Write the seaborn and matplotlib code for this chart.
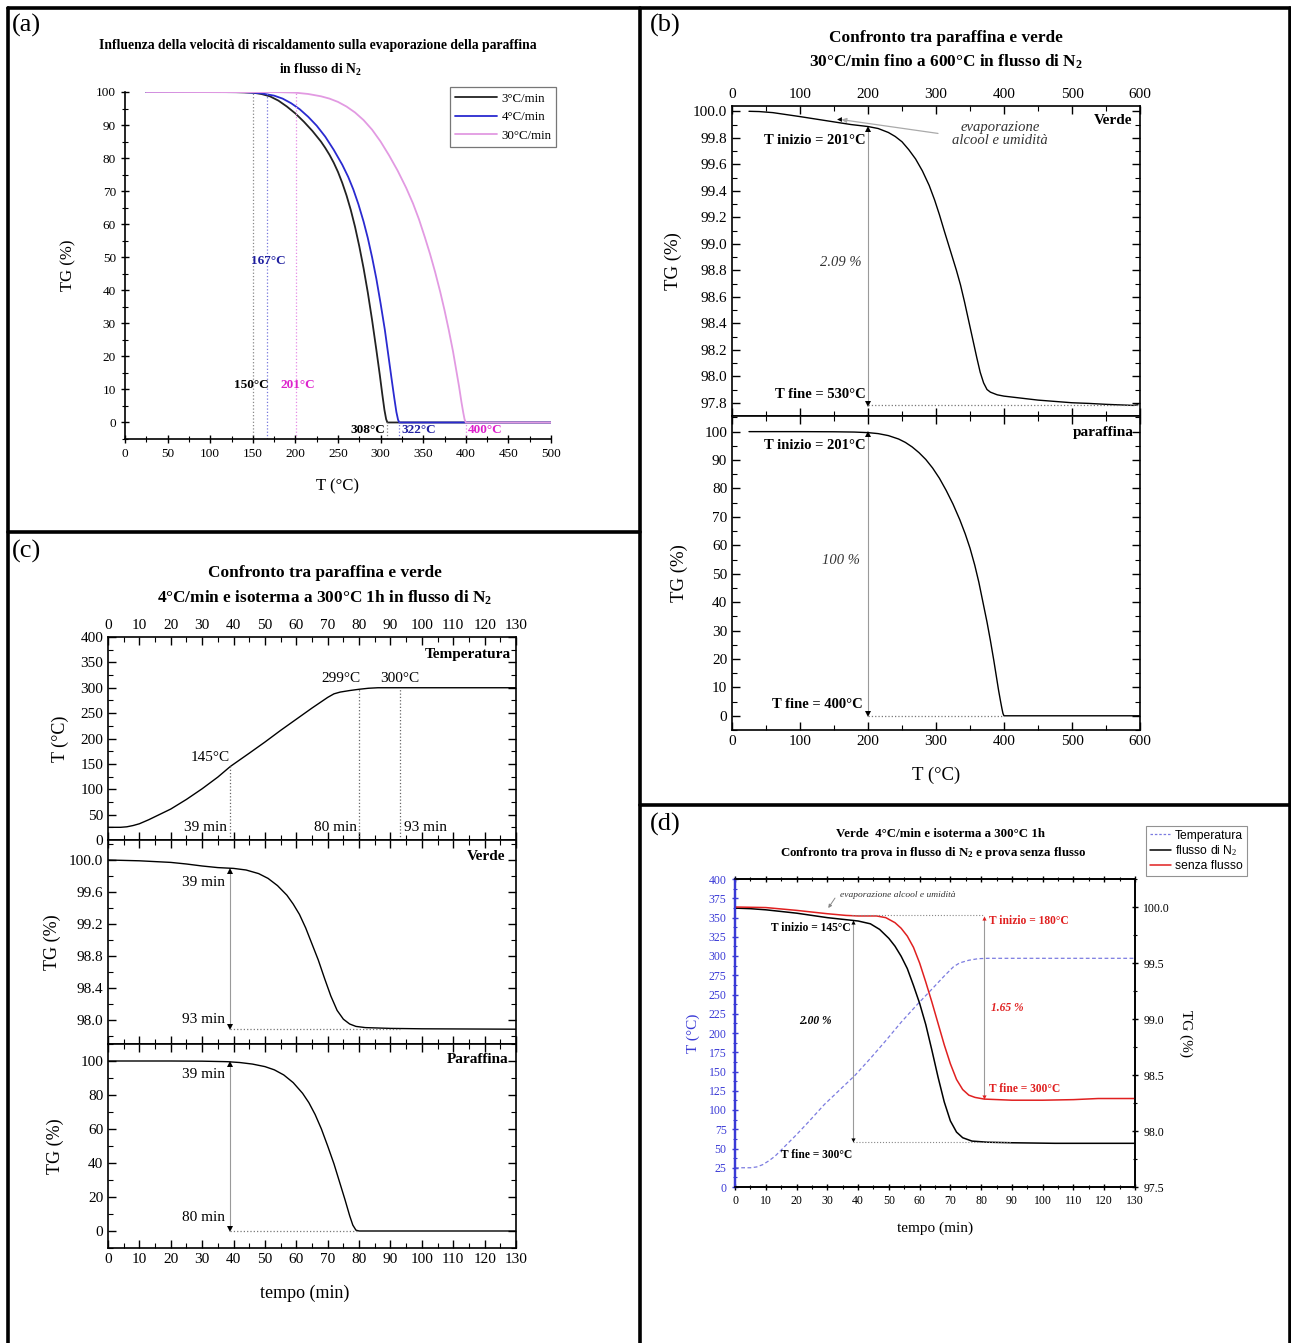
import numpy as np
import matplotlib
matplotlib.use("Agg")
import matplotlib.pyplot as plt
from matplotlib.ticker import MultipleLocator, FormatStrFormatter
from matplotlib.lines import Line2D
import seaborn as sns

W, H = 1291, 1343

# ---------------------------------------------------------------------
# Data
# ---------------------------------------------------------------------
# (a) paraffina, three heating rates
a_T3 = [25, 100, 130, 150, 160, 170, 180, 190, 200, 210, 220, 230, 235, 240, 245, 250, 255, 260,
        265, 270, 275, 280, 285, 290, 295, 299, 302, 304.5, 306.5, 308, 500]
a_TG3 = [100, 100, 99.95, 99.8, 99.4, 98.7, 97.4, 95.6, 93.5, 91, 88.2, 85, 83.1, 81, 78.6, 75.8,
         72.5, 68.7, 64.3, 59.2, 53.3, 46.7, 39.3, 31, 22, 14.5, 8.5, 3.8, 1, 0, 0]
a_T4 = [25, 140, 160, 175, 185, 195, 205, 215, 225, 235, 245, 255, 262, 268, 274, 280, 285, 290,
        295, 300, 305, 309, 313, 316, 318.5, 320.5, 322, 500]
a_TG4 = [100, 99.95, 99.6, 98.9, 98, 96.6, 94.8, 92.5, 89.8, 86.5, 82.5, 78, 74.3, 70.5, 66,
         60.8, 55.8, 50, 43.5, 36, 28, 20.5, 13, 7.5, 3.2, 0.8, 0, 0]
a_T30 = [25, 180, 200, 215, 230, 240, 250, 260, 270, 280, 290, 300, 310, 320, 330, 338, 345, 352,
         358, 364, 370, 375, 380, 385, 389, 392, 395, 397, 398.5, 400, 500]
a_TG30 = [100, 99.95, 99.8, 99.4, 98.7, 98, 97, 95.6, 93.8, 91.5, 88.6, 85, 80.8, 76.2, 71, 66.3,
          61.5, 56, 51, 45.5, 39.5, 34, 28, 21.5, 15.5, 11, 6, 3, 1, 0, 0]
a_rates = ["3°C/min", "4°C/min", "30°C/min"]

# (b) 30°C/min up to 600°C
b_T_verde = [25, 40, 60, 80, 100, 125, 150, 175, 200, 215, 230, 240, 250, 260, 270, 280, 290,
             298, 305, 312, 318, 324, 330, 336, 342, 348, 354, 360, 365, 370, 375, 380, 390,
             400, 425, 450, 475, 500, 525, 550, 575, 590, 597]
b_TG_verde = [100.0, 99.998, 99.99, 99.975, 99.96, 99.94, 99.92, 99.9, 99.885, 99.87, 99.84,
              99.81, 99.77, 99.71, 99.64, 99.55, 99.44, 99.33, 99.22, 99.1, 99.0, 98.9, 98.8,
              98.69, 98.56, 98.42, 98.28, 98.14, 98.03, 97.95, 97.9, 97.88, 97.86, 97.85,
              97.835, 97.82, 97.81, 97.8, 97.795, 97.788, 97.783, 97.78, 97.785]
b_T_par = [25, 100, 150, 180, 200, 215, 230, 245, 255, 265, 275, 285, 295, 305, 315, 325, 335,
           343, 350, 357, 363, 369, 375, 380, 385, 389, 392, 395, 397, 398.5, 400, 600]
b_TG_par = [100, 100, 99.95, 99.85, 99.65, 99.3, 98.6, 97.4, 96.2, 94.6, 92.6, 90.2, 87.2, 83.6,
            79.3, 74.5, 69, 64, 59, 53, 47, 40, 33, 26.5, 19.5, 13.5, 9, 5, 2.5, 0.8, 0, 0]

# (c) 4°C/min + isotherm 300°C 1h
c_t_temp = [0, 4, 6, 8, 10, 13, 16, 20, 25, 30, 35, 39, 45, 50, 55, 60, 65, 70, 72, 74, 77, 80,
            83, 86, 130]
c_temp = [25, 25, 26, 28.5, 32, 40, 49, 61, 80, 101, 124, 145, 171, 193, 216, 238, 260, 281,
          288, 291.5, 294.5, 297, 299, 300, 300]
c_t_verde = [0, 10, 20, 25, 30, 35, 40, 44, 48, 51, 54, 57, 59, 61, 63, 65, 67, 69, 71, 73, 75,
             77, 79, 82, 90, 100, 130]
c_TG_verde = [100.0, 99.99, 99.97, 99.95, 99.925, 99.905, 99.895, 99.875, 99.83, 99.77, 99.68,
              99.56, 99.45, 99.32, 99.15, 98.95, 98.75, 98.52, 98.3, 98.12, 98.01, 97.95, 97.92,
              97.905, 97.895, 97.89, 97.885]
c_t_par = [0, 20, 30, 38, 42, 46, 50, 53, 56, 59, 62, 64, 66, 68, 70, 72, 74, 75.5, 77, 78, 79,
           80, 130]
c_TG_par = [100, 100, 99.9, 99.6, 99.1, 98.2, 96.7, 94.8, 91.8, 87.3, 81, 75.5, 68.5, 60, 50,
            39.5, 27.5, 18.5, 9, 3.5, 0.5, 0, 0]

# (d) verde, with / without N2 flow
d_t_temp = [0, 5, 7, 9, 11, 13, 16, 20, 24, 29, 34, 39, 44, 49, 54, 59, 64, 68, 71, 73, 76, 79,
            82, 130]
d_temp = [25, 25, 26, 29, 34, 40, 52, 68, 85, 107, 126, 145, 167, 190, 214, 236, 257, 274, 286,
          291, 294.5, 296.5, 297, 297]
d_t_flux = [0, 5, 10, 15, 20, 25, 30, 35, 40, 44, 47, 50, 52, 54, 56, 58, 60, 62, 64, 66, 68, 70,
            72, 74, 77, 82, 90, 104, 130]
d_TG_flux = [99.99, 99.985, 99.975, 99.96, 99.945, 99.925, 99.905, 99.89, 99.875, 99.85, 99.8,
             99.72, 99.65, 99.56, 99.45, 99.3, 99.14, 98.95, 98.72, 98.48, 98.26, 98.09, 97.99,
             97.94, 97.91, 97.9, 97.895, 97.89, 97.89]
d_t_noflux = [0, 10, 20, 30, 36, 40, 46, 49, 52, 54, 56, 58, 60, 62, 64, 66, 68, 70, 72, 74, 76,
              78, 81, 90, 100, 110, 118, 130]
d_TG_noflux = [100.0, 99.995, 99.97, 99.94, 99.925, 99.92, 99.92, 99.905, 99.86, 99.81, 99.74,
               99.64, 99.5, 99.33, 99.15, 98.96, 98.77, 98.6, 98.46, 98.37, 98.32, 98.3, 98.285,
               98.275, 98.275, 98.28, 98.29, 98.29]

# ---------------------------------------------------------------------
# Style
# ---------------------------------------------------------------------
sns.set_theme(style="ticks")
plt.rcParams.update({
    "font.family": ["Liberation Serif", "DejaVu Serif"],
    "mathtext.fontset": "custom",
    "mathtext.rm": "Liberation Serif",
    "mathtext.it": "Liberation Serif:italic",
    "mathtext.bf": "Liberation Serif:bold",
    "xtick.direction": "in",
    "ytick.direction": "in",
    "axes.linewidth": 1.2,
    "axes.edgecolor": "black",
    "xtick.color": "black",
    "ytick.color": "black",
    "text.color": "black",
    "axes.labelcolor": "black",
})

fig = plt.figure(figsize=(W / 100, H / 100), dpi=100)
fig.patch.set_facecolor("white")


def rect(l, t, r, b):
    return [l / W, 1 - b / H, (r - l) / W, (b - t) / H]


def ftext(x, y, s, **kw):
    fig.text(x / W, 1 - y / H, s, **kw)


def line(ax, x, y, color="black", lw=1.0, **kw):
    sns.lineplot(x=x, y=y, ax=ax, color=color, lw=lw, sort=False, estimator=None, **kw)


def arrow(ax, x, y0, y1, color="#9a9a9a", head="black", ms=4):
    ax.vlines(x, y1, y0, colors=color, lw=0.8)
    ax.plot([x], [y0], marker="^", ms=ms, color=head, mew=0)
    ax.plot([x], [y1], marker="v", ms=ms, color=head, mew=0)


def ticks(ax, size, major=5, minor=3):
    ax.tick_params(which="major", length=major, width=1.0, labelsize=size)
    ax.tick_params(which="minor", length=minor, width=0.8)


# panel frames
for (x0, y0, x1, y1) in [(8, 8, 1290, 8), (8, 8, 8, 1343), (1290, 8, 1290, 1343),
                         (640, 8, 640, 1343), (8, 532, 640, 532), (640, 805, 1290, 805)]:
    fig.add_artist(Line2D([x0 / W, x1 / W], [1 - y0 / H, 1 - y1 / H], color="black",
                          lw=2.6, transform=fig.transFigure))

for lab, x, y in [("(a)", 12, 14), ("(b)", 650, 14), ("(c)", 12, 540), ("(d)", 650, 813)]:
    ftext(x, y, lab, fontsize=19, va="top", ha="left")

# ---------------------------------------------------------------------
# (a)
# ---------------------------------------------------------------------
ax = fig.add_axes(rect(125, 92, 551, 439))
c3, c4, c30 = "#222222", "#2a2ad0", "#e29ae2"
line(ax, a_T3, a_TG3, color=c3, lw=1.3, label=a_rates[0])
line(ax, a_T4, a_TG4, color=c4, lw=1.3, label=a_rates[1])
line(ax, a_T30, a_TG30, color=c30, lw=1.3, label=a_rates[2])
ax.set_xlim(0, 500)
ax.set_ylim(-5, 100)
sns.despine(ax=ax)
ax.xaxis.set_major_locator(MultipleLocator(50))
ax.xaxis.set_minor_locator(MultipleLocator(25))
ax.yaxis.set_major_locator(MultipleLocator(10))
ax.yaxis.set_minor_locator(MultipleLocator(5))
ax.tick_params(which="both", direction="inout")
ticks(ax, 9.5, 6, 4)
ax.set_xlabel("T (°C)", fontsize=12, labelpad=13)
ax.set_ylabel("TG (%)", fontsize=12, labelpad=14)
for xv, col in [(150, "#888888"), (167, "#7777dd"), (201, "#e58ae5")]:
    ax.vlines(xv, -5, 100, colors=col, linestyles=":", lw=0.9)
for xv, col in [(308, "#888888"), (322, "#7777dd"), (400, "#e58ae5")]:
    ax.vlines(xv, -5, 0, colors=col, linestyles=":", lw=0.9)
ax.text(168, 49, "167°C", color="#2020a0", fontsize=9.5, fontweight="bold", ha="center", va="center")
ax.text(148, 11.3, "150°C", color="black", fontsize=9.5, fontweight="bold", ha="center", va="center")
ax.text(203, 11.3, "201°C", color="#dd22cc", fontsize=9.5, fontweight="bold", ha="center", va="center")
ax.text(305, -2.4, "308°C", color="black", fontsize=9.5, fontweight="bold", ha="right", va="center")
ax.text(324, -2.4, "322°C", color="#2020a0", fontsize=9.5, fontweight="bold", ha="left", va="center")
ax.text(403, -2.4, "400°C", color="#dd22cc", fontsize=9.5, fontweight="bold", ha="left", va="center")
leg = ax.legend(loc="upper left", bbox_to_anchor=(0.762, 1.013), fontsize=9.3, frameon=True,
                fancybox=False, edgecolor="#555555", handlelength=3.3, handletextpad=0.3,
                borderpad=0.4, labelspacing=0.5, borderaxespad=0)
leg.get_frame().set_linewidth(0.9)
ftext(318, 46, "Influenza della velocità di riscaldamento sulla evaporazione della paraffina",
      fontsize=9.8, fontweight="bold", ha="center", va="center")
ftext(320, 70, r"in flusso di N$_{\mathbf{2}}$", fontsize=9.8, fontweight="bold", ha="center", va="center")

# ---------------------------------------------------------------------
# (b)
# ---------------------------------------------------------------------
ftext(946, 38, "Confronto tra paraffina e verde", fontsize=12.4, fontweight="bold", ha="center", va="center")
ftext(946, 62, r"30°C/min fino a 600°C in flusso di N$_{\mathbf{2}}$", fontsize=12.4,
      fontweight="bold", ha="center", va="center")

axb1 = fig.add_axes(rect(732, 106, 1140, 416))
line(axb1, b_T_verde, b_TG_verde, lw=1.0)
axb1.set_xlim(0, 600)
axb1.set_ylim(97.7, 100.04)
axb1.xaxis.set_major_locator(MultipleLocator(100))
axb1.xaxis.set_minor_locator(MultipleLocator(50))
axb1.yaxis.set_major_locator(MultipleLocator(0.2))
axb1.yaxis.set_minor_locator(MultipleLocator(0.1))
axb1.yaxis.set_major_formatter(FormatStrFormatter("%.1f"))
axb1.tick_params(which="both", top=True, right=True, labeltop=True, labelbottom=False)
ticks(axb1, 11, 6, 3.5)
axb1.set_ylabel("TG (%)", fontsize=13.5, labelpad=8)
axb1.set_xlabel("")
axb1.text(588, 99.93, "Verde", fontsize=11, fontweight="bold", ha="right", va="center")
axb1.text(197, 99.78, "T inizio = 201°C", fontsize=10.5, fontweight="bold", ha="right", va="center")
axb1.text(160, 98.86, "2.09 %", fontsize=10.5, style="italic", color="#333333", ha="center", va="center")
axb1.text(196, 97.86, "T fine = 530°C", fontsize=10.5, fontweight="bold", ha="right", va="center")
arrow(axb1, 200, 99.865, 97.79)
axb1.hlines(97.78, 200, 600, colors="#777777", linestyles=":", lw=0.9)
axb1.text(394, 99.83, "evaporazione\nalcool e umidità", fontsize=10.5, style="italic",
          color="#333333", ha="center", va="center", linespacing=0.95)
axb1.annotate("", xy=(157, 99.94), xytext=(307, 99.83),
              arrowprops=dict(arrowstyle="-|>", color="#aaaaaa", lw=0.9, mutation_scale=7))
axb1.plot([157], [99.94], marker="<", ms=3.5, color="black", mew=0)

axb2 = fig.add_axes(rect(732, 416, 1140, 730))
line(axb2, b_T_par, b_TG_par, lw=1.0)
axb2.set_xlim(0, 600)
axb2.set_ylim(-5, 105.5)
axb2.xaxis.set_major_locator(MultipleLocator(100))
axb2.xaxis.set_minor_locator(MultipleLocator(50))
axb2.yaxis.set_major_locator(MultipleLocator(10))
axb2.yaxis.set_minor_locator(MultipleLocator(5))
axb2.tick_params(which="both", top=True, right=True)
ticks(axb2, 11, 6, 3.5)
axb2.set_ylabel("TG (%)", fontsize=13.5, labelpad=12)
axb2.set_xlabel("")
ftext(936, 775, "T (°C)", fontsize=13.5, ha="center", va="center")
axb2.text(590, 99.6, "paraffina", fontsize=11, fontweight="bold", ha="right", va="center")
axb2.text(197, 95, "T inizio = 201°C", fontsize=10.5, fontweight="bold", ha="right", va="center")
axb2.text(160, 54.6, "100 %", fontsize=10.5, style="italic", color="#333333", ha="center", va="center")
axb2.text(192, 3.9, "T fine = 400°C", fontsize=10.5, fontweight="bold", ha="right", va="center")
arrow(axb2, 200, 99.3, 0.8)
axb2.hlines(0, 200, 400, colors="#777777", linestyles=":", lw=0.9)

# ---------------------------------------------------------------------
# (c)
# ---------------------------------------------------------------------
ftext(325, 573, "Confronto tra paraffina e verde", fontsize=12.4, fontweight="bold", ha="center", va="center")
ftext(325, 598, r"4°C/min e isoterma a 300°C 1h in flusso di N$_{\mathbf{2}}$", fontsize=12.4,
      fontweight="bold", ha="center", va="center")

c_axes = []
for (t, b) in [(637, 840), (840, 1044), (1044, 1248)]:
    a = fig.add_axes(rect(108, t, 516, b))
    a.set_xlim(0, 130)
    a.xaxis.set_major_locator(MultipleLocator(10))
    a.xaxis.set_minor_locator(MultipleLocator(5))
    a.tick_params(which="both", top=True, right=True, labelbottom=False)
    ticks(a, 11, 6, 3.5)
    c_axes.append(a)
axc1, axc2, axc3 = c_axes

line(axc1, c_t_temp, c_temp, lw=1.0)
axc1.set_ylim(0, 400)
axc1.yaxis.set_major_locator(MultipleLocator(50))
axc1.yaxis.set_minor_locator(MultipleLocator(25))
axc1.tick_params(labeltop=True)
axc1.set_ylabel("T (°C)", fontsize=13, labelpad=8)
axc1.text(128.5, 366, "Temperatura", fontsize=11, fontweight="bold", ha="right", va="center")
axc1.text(32.5, 163, "145°C", fontsize=11, ha="center", va="center")
axc1.text(74.2, 319, "299°C", fontsize=11, ha="center", va="center")
axc1.text(93, 319, "300°C", fontsize=11, ha="center", va="center")
axc1.text(31, 24, "39 min", fontsize=11, ha="center", va="center")
axc1.text(72.6, 24, "80 min", fontsize=11, ha="center", va="center")
axc1.text(101.3, 24, "93 min", fontsize=11, ha="center", va="center")
axc1.vlines(39, 0, 145, colors="#666666", linestyles=":", lw=0.9)
axc1.vlines(80, 0, 297, colors="#666666", linestyles=":", lw=0.9)
axc1.vlines(93, 0, 300, colors="#666666", linestyles=":", lw=0.9)

line(axc2, c_t_verde, c_TG_verde, lw=1.0)
axc2.set_ylim(97.7, 100.25)
axc2.yaxis.set_major_locator(MultipleLocator(0.4))
axc2.yaxis.set_minor_locator(MultipleLocator(0.2))
axc2.yaxis.set_major_formatter(FormatStrFormatter("%.1f"))
axc2.set_ylabel("TG (%)", fontsize=13, labelpad=6)
axc2.text(126.5, 100.05, "Verde", fontsize=11, fontweight="bold", ha="right", va="center")
axc2.text(30.3, 99.72, "39 min", fontsize=11, ha="center", va="center")
axc2.text(30.3, 98.01, "93 min", fontsize=11, ha="center", va="center")
arrow(axc2, 39, 99.86, 97.91)
axc2.hlines(97.89, 39, 93, colors="#777777", linestyles=":", lw=0.9)

line(axc3, c_t_par, c_TG_par, lw=1.0)
axc3.set_ylim(-10, 110)
axc3.yaxis.set_major_locator(MultipleLocator(20))
axc3.yaxis.set_minor_locator(MultipleLocator(10))
axc3.tick_params(labelbottom=True)
axc3.set_ylabel("TG (%)", fontsize=13, labelpad=12)
axc3.text(127.5, 101, "Paraffina", fontsize=11, fontweight="bold", ha="right", va="center")
axc3.text(30.3, 91.8, "39 min", fontsize=11, ha="center", va="center")
axc3.text(30.3, 8.2, "80 min", fontsize=11, ha="center", va="center")
arrow(axc3, 39, 98, 1)
axc3.hlines(0, 39, 80, colors="#777777", linestyles=":", lw=0.9)
for a in c_axes:
    a.set_xlabel("")
ftext(305, 1293, "tempo (min)", fontsize=13, ha="center", va="center")

# ---------------------------------------------------------------------
# (d)
# ---------------------------------------------------------------------
blue = "#3a3ad6"
ftext(940, 834, "Verde  4°C/min e isoterma a 300°C 1h", fontsize=9.3, fontweight="bold",
      ha="center", va="center")
ftext(933, 853, r"Confronto tra prova in flusso di N$_{\mathbf{2}}$ e prova senza flusso", fontsize=9.3,
      fontweight="bold", ha="center", va="center")

axd = fig.add_axes(rect(735, 879, 1135, 1187))
line(axd, d_t_temp, d_temp, color="#7b7be0", lw=0.9, linestyle=(0, (3, 2)))
axd.set_xlim(0, 130)
axd.set_ylim(0, 400)
axd.xaxis.set_major_locator(MultipleLocator(10))
axd.xaxis.set_minor_locator(MultipleLocator(5))
axd.yaxis.set_major_locator(MultipleLocator(25))
axd.yaxis.set_minor_locator(MultipleLocator(12.5))
axd.tick_params(which="both", top=True, direction="inout")
ticks(axd, 8.5, 5, 3)
axd.tick_params(axis="y", which="both", colors=blue, labelcolor=blue)
axd.spines["left"].set_color(blue)
axd.spines["left"].set_linewidth(1.6)
axd.set_ylabel("T (°C)", fontsize=11, color=blue, labelpad=6)
axd.set_xlabel("")
ftext(935, 1228, "tempo (min)", fontsize=11, ha="center", va="center")

axr = axd.twinx()
line(axr, d_t_flux, d_TG_flux, color="black", lw=1.1)
line(axr, d_t_noflux, d_TG_noflux, color="#e02020", lw=1.1)
axr.set_ylim(97.5, 100.25)
axr.yaxis.set_major_locator(MultipleLocator(0.5))
axr.yaxis.set_minor_locator(MultipleLocator(0.25))
axr.yaxis.set_major_formatter(FormatStrFormatter("%.1f"))
axr.tick_params(which="both", direction="inout")
ticks(axr, 8.5, 5, 3)
axr.spines["left"].set_color(blue)
axr.spines["left"].set_linewidth(1.6)
axr.set_xlabel("")
axr.set_ylabel("TG (%)", fontsize=11, rotation=-90, labelpad=16)

axr.text(53, 100.11, "evaporazione alcool e umidità", fontsize=6.8, style="italic",
         color="#333333", ha="center", va="center")
axr.annotate("", xy=(29.8, 99.97), xytext=(33, 100.1),
             arrowprops=dict(arrowstyle="-|>", color="#888888", lw=0.7, mutation_scale=5))
axr.text(37.5, 99.81, "T inizio = 145°C", fontsize=8.3, fontweight="bold", ha="right", va="center")
arrow(axr, 38.5, 99.865, 97.92, ms=3)
axr.text(26, 98.98, "2.00 %", fontsize=8.3, fontweight="bold", style="italic", ha="center", va="center")
axr.text(26.5, 97.79, "T fine = 300°C", fontsize=8.3, fontweight="bold", ha="center", va="center")
axr.hlines(97.9, 38.5, 90, colors="#888888", linestyles=":", lw=0.8)
axr.hlines(99.93, 38, 81, colors="#888888", linestyles=":", lw=0.8)
arrow(axr, 81, 99.9, 98.3, head="#e02020", ms=3)
axr.text(82.5, 99.875, "T inizio = 180°C", fontsize=8.3, fontweight="bold", color="#e02020", ha="left", va="center")
axr.text(88.4, 99.1, "1.65 %", fontsize=8.3, fontweight="bold", style="italic", color="#e02020",
         ha="center", va="center")
axr.text(82.5, 98.375, "T fine = 300°C", fontsize=8.3, fontweight="bold", color="#e02020", ha="left", va="center")

handles = [Line2D([], [], color="#7b7be0", lw=0.9, linestyle=(0, (2, 1.5))),
           Line2D([], [], color="black", lw=1.1),
           Line2D([], [], color="#e02020", lw=1.1)]
dleg = fig.legend(handles, ["Temperatura", r"flusso di N$_2$", "senza flusso"],
                  loc="upper left", bbox_to_anchor=(1146 / W, 1 - 826 / H),
                  prop={"family": "Liberation Sans", "size": 8.7}, frameon=True, fancybox=False,
                  edgecolor="#777777", handlelength=1.8, handletextpad=0.3, borderpad=0.3,
                  labelspacing=0.15, borderaxespad=0)
dleg.get_frame().set_linewidth(0.8)

fig.savefig("out.png", dpi=100, facecolor="white")
